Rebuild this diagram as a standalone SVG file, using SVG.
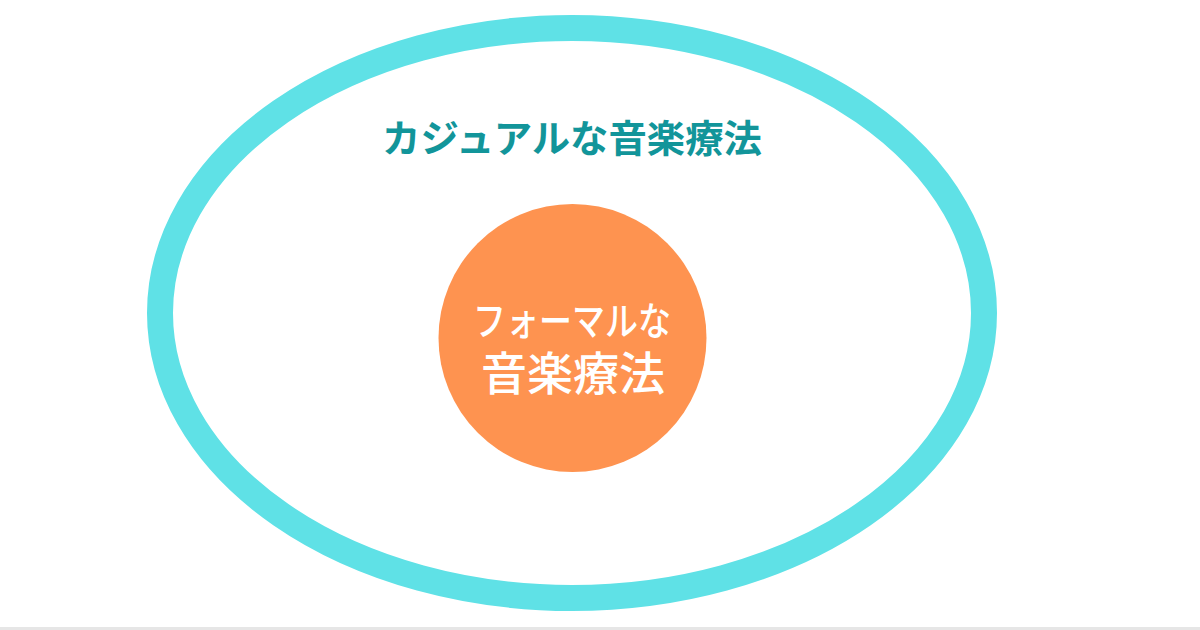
<svg xmlns="http://www.w3.org/2000/svg" width="1200" height="630" viewBox="0 0 1200 630">
<style>
.t{font-family:"Noto Sans CJK JP","Noto Sans",sans-serif;text-anchor:middle}
.outer-label{fill:#12959a;font-size:38px;font-weight:700}
.inner-label{fill:#ffffff;font-weight:500}
</style>
<rect x="0" y="0" width="1200" height="630" fill="#ffffff"/>
<rect x="0" y="627" width="1200" height="3" fill="#e6e6e6"/>
<g id="casual">
<ellipse cx="572" cy="313" rx="412" ry="285" fill="none" stroke="#5fe1e6" stroke-width="26"/>
<text class="t outer-label" x="572" y="152" textLength="380" lengthAdjust="spacingAndGlyphs">カジュアルな音楽療法</text>
</g>
<g id="formal">
<circle cx="572.5" cy="338" r="134" fill="#fe9350"/>
<text class="t inner-label" x="572" y="335" font-size="39" textLength="198" lengthAdjust="spacingAndGlyphs">フォーマルな</text>
<text class="t inner-label" x="573" y="390" font-size="46">音楽療法</text>
</g>
<g id="connectors"/>
</svg>
